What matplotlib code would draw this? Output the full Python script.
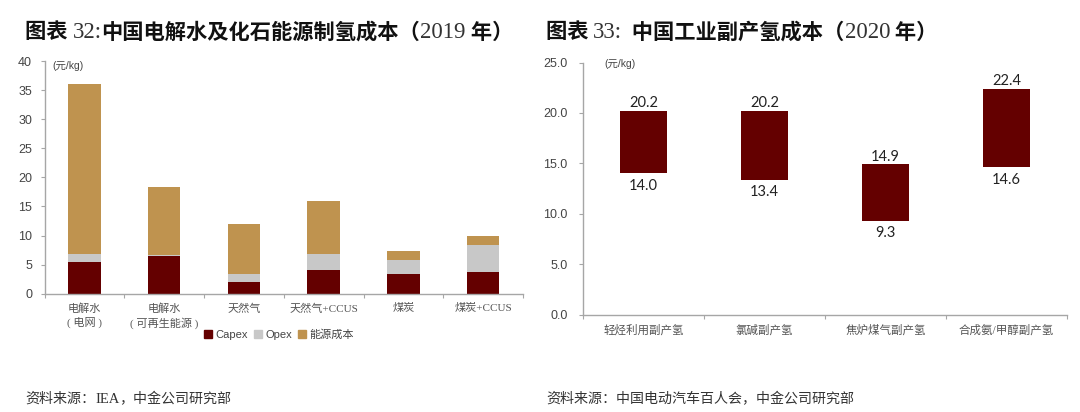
import matplotlib
matplotlib.use("Agg")
import matplotlib.pyplot as plt
import numpy as np
from matplotlib.patches import Patch

plt.rcParams['font.family'] = ['Liberation Sans', 'Noto Sans CJK SC']

W, H = 1080, 412

# left chart
hydrogen_types = ["电解水\n( 电网 )", "电解水\n( 可再生能源 )", "天然气", "天然气+CCUS", "煤炭", "煤炭+CCUS"]
capex = [5.4, 6.5, 2.0, 4.1, 3.4, 3.8]
opex = [1.4, 0.1, 1.4, 2.7, 2.4, 4.6]
energy_cost = [29.2, 11.8, 8.6, 9.1, 1.5, 1.6]
left_ticks = [0, 5, 10, 15, 20, 25, 30, 35, 40]

# right chart
byproduct_types = ["轻烃利用副产氢", "氯碱副产氢", "焦炉煤气副产氢", "合成氨/甲醇副产氢"]
cost_low = [14.0, 13.4, 9.3, 14.6]
cost_high = [20.2, 20.2, 14.9, 22.4]
right_ticks = [0.0, 5.0, 10.0, 15.0, 20.0, 25.0]

DARK_RED = "#640000"
GREY = "#c8c8c8"
TAN = "#bf934f"
AXIS = "#a6a6a6"
TEXT = "#444444"
CATEGORY_FONT = ['Liberation Serif', 'Noto Sans CJK SC']


def make_axes(fig, left, right, top, bottom, pad):
    ax = fig.add_axes([left / W, 1 - bottom / H, (right - left) / W, (bottom - top) / H])
    ax.spines[["top", "right"]].set_visible(False)
    ax.spines[["left", "bottom"]].set_color(AXIS)
    ax.spines[["left", "bottom"]].set_linewidth(1.0)
    ax.tick_params(axis="y", color=AXIS, length=3, labelsize=9, labelcolor=TEXT, pad=pad)
    return ax


def set_categories(ax, labels, size):
    n = len(labels)
    ax.set_xlim(-0.5, n - 0.5)
    ax.set_xticks(np.arange(n + 1) - 0.5)
    ax.set_xticklabels([])
    ax.tick_params(axis="x", which="major", color=AXIS, length=3)
    ax.set_xticks(np.arange(n), minor=True)
    ax.set_xticklabels(labels, minor=True, fontsize=size, color="#555555", linespacing=1.35,
                       family=CATEGORY_FONT)
    ax.tick_params(axis="x", which="minor", length=0, pad=7)


def draw_parts(fig, x, y, parts, size, serif_size, weight):
    # CJK pieces and serif digits sit on one line, so measure as we go
    renderer = fig.canvas.get_renderer()
    for text, serif in parts:
        if serif:
            t = fig.text(x / W, 1 - y / H, text, fontsize=serif_size, family="Liberation Serif",
                         color="#333333", va="baseline")
        else:
            t = fig.text(x / W, 1 - y / H, text, fontsize=size, weight=weight,
                         family="Noto Sans CJK SC", color="#111111" if weight == "bold" else "#333333",
                         va="baseline")
        x = t.get_window_extent(renderer).x1


fig = plt.figure(figsize=(W / 100, H / 100), dpi=100)

# left chart
ax1 = make_axes(fig, 44.5, 523, 61, 293.7, 6)
pos1 = np.arange(len(hydrogen_types))
capex_arr = np.array(capex)
opex_arr = np.array(opex)
ax1.bar(pos1, capex, width=0.405, color=DARK_RED)
ax1.bar(pos1, opex, width=0.405, bottom=capex_arr, color=GREY)
ax1.bar(pos1, energy_cost, width=0.405, bottom=capex_arr + opex_arr, color=TAN)
ax1.set_ylim(0, 40)
ax1.set_yticks(left_ticks)
set_categories(ax1, hydrogen_types, 8)
ax1.text(52 / W, 1 - 66 / H, "(元/kg)", transform=fig.transFigure, fontsize=7.5, color=TEXT, va="center")
ax1.legend(handles=[Patch(color=DARK_RED, label="Capex"), Patch(color=GREY, label="Opex"), Patch(color=TAN, label="能源成本")],
           loc="center", bbox_to_anchor=(279 / W, 1 - 334.5 / H), bbox_transform=fig.transFigure,
           ncol=3, frameon=False, fontsize=8, labelcolor=TEXT, handlelength=0.75, handleheight=0.75,
           handletextpad=0.3, columnspacing=0.5, borderpad=0)

# right chart
ax2 = make_axes(fig, 583, 1067, 62.5, 314.7, 8)
pos2 = np.arange(len(byproduct_types))
low = np.array(cost_low)
high = np.array(cost_high)
ax2.bar(pos2, high - low, width=0.39, bottom=low, color=DARK_RED)
for x, lo, hi in zip(pos2, cost_low, cost_high):
    ax2.annotate(f"{hi:.1f}", (x, hi), xytext=(0, 0.5), textcoords="offset points",
                 ha="center", va="bottom", fontsize=10.5, family="Lato", color="#222222")
    ax2.annotate(f"{lo:.1f}", (x, lo), xytext=(0, -4), textcoords="offset points",
                 ha="center", va="top", fontsize=10.5, family="Lato", color="#222222")
ax2.set_ylim(0, 25)
ax2.set_yticks(right_ticks)
ax2.set_yticklabels([f"{v:.1f}" for v in right_ticks])
set_categories(ax2, byproduct_types, 8.3)
ax2.text(604 / W, 1 - 64 / H, "(元/kg)", transform=fig.transFigure, fontsize=7.5, color=TEXT, va="center")

# headings and sources
draw_parts(fig, 25, 38.5, [("图表 ", False), ("32:", True), ("中国电解水及化石能源制氢成本（", False), ("2019", True), (" 年）", False)],
           15.3, 16.5, "bold")
draw_parts(fig, 546, 38.5, [("图表 ", False), ("33:", True), ("  中国工业副产氢成本（", False), ("2020", True), (" 年）", False)],
           15.3, 16.5, "bold")
draw_parts(fig, 25, 403, [("资料来源：", False), ("IEA", True), ("，中金公司研究部", False)], 10.1, 10.5, "normal")
draw_parts(fig, 546, 403, [("资料来源：中国电动汽车百人会，中金公司研究部", False)], 10.1, 10.5, "normal")

fig.savefig("out.png", dpi=100)
